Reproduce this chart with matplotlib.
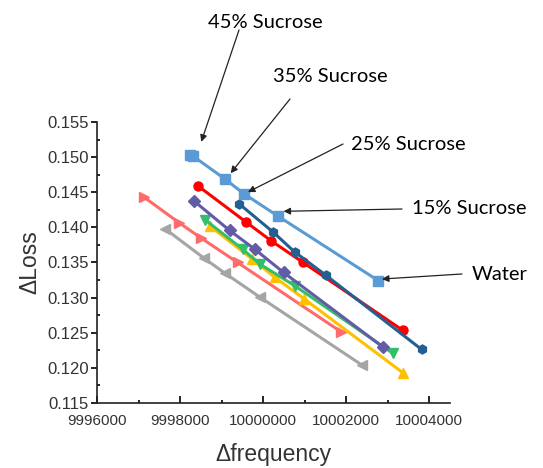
import matplotlib
matplotlib.use('Agg')
import matplotlib.pyplot as plt

plt.rcParams['font.family'] = 'Liberation Sans'

# ================== Data ==================
water_x = [9998245, 9998300, 9999077, 9999534, 10000358, 10002778]
water_y = [0.1503, 0.1502, 0.1469, 0.1448, 0.1416, 0.1324]

red_x = [9998428, 9999593, 10000200, 10000965, 10003360]
red_y = [0.14592, 0.14074, 0.13806, 0.13500, 0.12535]

dblue_x = [9999426, 10000241, 10000757, 10001505, 10003817]
dblue_y = [0.14333, 0.13933, 0.13651, 0.13321, 0.12262]

purple_x = [9998345, 9999193, 9999800, 10000491, 10002877]
purple_y = [0.14371, 0.13956, 0.13688, 0.13359, 0.12300]

green_x = [9998595, 9999509, 9999925, 10000757, 10003127]
green_y = [0.14112, 0.13688, 0.13476, 0.13171, 0.12206]

yellow_x = [9998719, 9999742, 10000283, 10000990, 10003360]
yellow_y = [0.14018, 0.13547, 0.13288, 0.12982, 0.11933]

pink_x = [9997139, 9997979, 9998495, 9999385, 10001879]
pink_y = [0.14427, 0.14065, 0.13853, 0.13500, 0.12512]

gray_x = [9997638, 9998578, 9999077, 9999925, 10002378]
gray_y = [0.13980, 0.13561, 0.13349, 0.13006, 0.12041]

XTICKS = [9996000, 9998000, 10000000, 10002000, 10004000]
YTICKS = [0.115, 0.120, 0.125, 0.130, 0.135, 0.140, 0.145, 0.150, 0.155]

SERIES = [
    (gray_x, gray_y, '#A5A5A5', '<'),
    (pink_x, pink_y, '#FF6B6B', '>'),
    (yellow_x, yellow_y, '#FFC000', '^'),
    (green_x, green_y, '#33BF6A', 'v'),
    (purple_x, purple_y, '#625CA6', 'D'),
    (red_x, red_y, '#FF0000', 'o'),
    (dblue_x, dblue_y, '#255E91', 'h'),
    (water_x, water_y, '#5B9BD5', 's'),
]

# label, text position (fig px), arrow tail (fig px), arrow head (data)
NOTES = [
    ('45% Sucrose', (208, 22), (239, 30), (9998511, 0.15218)),
    ('35% Sucrose', (273, 77), (290, 99), (9999218, 0.14771)),
    ('25% Sucrose', (351, 145), (343, 144), (9999634, 0.14502)),
    ('15% Sucrose', (412, 209), (402, 209), (10000491, 0.14229)),
    ('Water', (472, 275), (462, 274), (10002861, 0.13265)),
]

W, H = 543, 468

# ================== Plot ==================
fig = plt.figure(figsize=(W / 100, H / 100), dpi=100)
ax = fig.add_axes([97 / W, 1 - 403 / H, 353 / W, 281 / H])

for xs, ys, c, m in SERIES:
    ax.plot(xs, ys, color=c, lw=2.2, marker=m, ms=6.5, mec=c, mfc=c)

ax.set_xlim(9996000, 10004500)
ax.set_ylim(0.115, 0.155)
ax.set_xticks(XTICKS)
ax.set_xticklabels(['%d' % t for t in XTICKS])
ax.set_xticks([t + 1000 for t in XTICKS[:-1]], minor=True)
ax.set_yticks(YTICKS)
ax.set_yticklabels(['%.3f' % t for t in YTICKS])
ax.set_yticks([t + 0.0025 for t in YTICKS[:-1]], minor=True)

for s in ['top', 'right']:
    ax.spines[s].set_visible(False)
for s in ['left', 'bottom']:
    ax.spines[s].set_linewidth(1.2)
    ax.spines[s].set_color('#222222')

ax.tick_params(axis='x', which='major', direction='in', length=5, width=1.2, pad=8,
               labelcolor='#333333', labelsize=11)
ax.tick_params(axis='x', which='minor', direction='in', length=2.5, width=1.2)
ax.tick_params(axis='y', which='major', direction='out', length=4, width=1.2, pad=2,
               labelcolor='#333333', labelsize=12)
ax.tick_params(axis='y', which='minor', direction='in', length=2.5, width=1.2)

ax.set_xlabel('\u0394frequency', fontsize=16.5, color='#333333', labelpad=11)
ax.set_ylabel('\u0394Loss', fontsize=16.5, color='#333333', labelpad=4)

for label, tpos, tail, head in NOTES:
    fig.text(tpos[0] / W, 1 - tpos[1] / H, label, fontsize=14.5, family='Lato',
             ha='left', va='center', color='black')
    ax.annotate('', xy=head, xycoords='data',
                xytext=(tail[0] / W, 1 - tail[1] / H), textcoords='figure fraction',
                arrowprops=dict(arrowstyle='-|>', color='#222222', lw=0.9,
                                mutation_scale=10, shrinkA=0, shrinkB=0))

plt.savefig('out.png', dpi=100)
